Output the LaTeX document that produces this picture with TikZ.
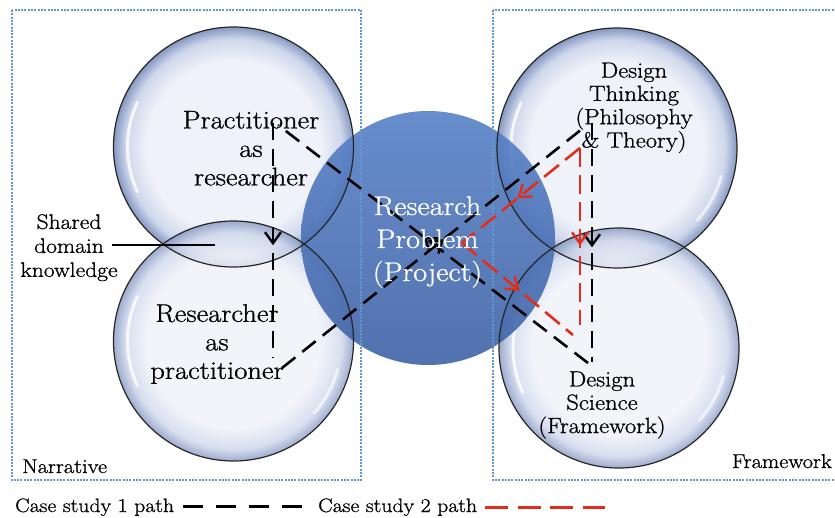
\documentclass[tikz,border=0pt]{standalone}
\usepackage{fontspec}
\setmainfont{Latin Modern Roman}[FakeStretch=1.12, FakeBold=0.9]
\usetikzlibrary{arrows.meta,decorations.markings}
\definecolor{bubin}{RGB}{239,242,249}
\definecolor{bubmid}{RGB}{206,215,235}
\definecolor{bubrim}{RGB}{134,152,194}
\definecolor{probtop}{RGB}{88,129,199}
\definecolor{probbot}{RGB}{63,99,166}
\definecolor{boxblue}{RGB}{100,152,208}
\definecolor{pathred}{RGB}{224,46,28}
\pgfdeclareradialshading{bubble}{\pgfpoint{0bp}{0bp}}{color(0bp)=(bubin); color(18bp)=(bubin); color(22.5bp)=(bubmid); color(25bp)=(bubrim); color(50bp)=(bubrim)}
\begin{document}
\begin{tikzpicture}[x=1pt,y=-1pt,
  bubbleedge/.style={draw=black!85, line width=1.2pt},
  gloss/.style={white, line width=3pt, line cap=round, opacity=0.8},
  framebox/.style={draw=boxblue, line width=1.1pt, dash pattern=on 2pt off 1.3pt},
  pathone/.style={black, line width=2.6pt, dash pattern=on 17pt off 9pt},
  pathtwo/.style={pathred, line width=2.6pt, dash pattern=on 19pt off 8pt},
  midarrow/.style={postaction={decorate}, decoration={markings, mark=at position #1 with {\arrow{Straight Barb[length=11pt,width=16pt,line width=2.4pt]}}}},
  bigtext/.style={font=\fontsize{25.5}{28.5}\selectfont, align=center, inner sep=0pt},
  probtext/.style={font=\fontsize{27}{33}\selectfont, align=center, inner sep=0pt, text=white},
  dtext/.style={font=\fontsize{22}{23.3}\selectfont, align=center, inner sep=0pt},
  stext/.style={font=\fontsize{21}{24}\selectfont, align=center, inner sep=0pt},
  ltext/.style={font=\fontsize{20}{24}\selectfont, inner sep=0pt},
  legtext/.style={font=\fontsize{19.4}{24}\selectfont, inner sep=0pt}
]
\useasboundingbox (0,0) rectangle (835,517);
\clip (0,0) rectangle (835,517);
\fill[white] (0,0) rectangle (835,517);

% circle centres
\coordinate (cTL) at (233.5,147);
\coordinate (cBL) at (233.5,341);
\coordinate (cTR) at (617,148);
\coordinate (cBR) at (619,348);
\coordinate (cRP) at (428,238);

% bubbles
\shade[shading=bubble] (cTL) circle[radius=120];
\shade[shading=bubble, opacity=0.8] (cBL) circle[radius=120];
\shade[shading=bubble] (cTR) circle[radius=120];
\shade[shading=bubble, opacity=0.8] (cBR) circle[radius=120];
\foreach \c in {cTL,cBL,cTR,cBR}{
  \draw[gloss] (\c) ++(155:106) arc[start angle=155, end angle=205, radius=106];
  \draw[gloss, opacity=0.6] (\c) ++(15:108) arc[start angle=15, end angle=42, radius=108];
}

% research problem
\shade[top color=probtop, bottom color=probbot, opacity=0.9] (cRP) circle[radius=127];

% outlines
\foreach \c in {cTL,cBL,cTR,cBR}{
  \draw[bubbleedge] (\c) circle[radius=120];
}

% frames
\draw[framebox] (12,10) rectangle (361,480);
\draw[framebox] (493,10) rectangle (850,480);

% case study 1 path
\coordinate (a1) at (273,123);
\coordinate (a2) at (273,358);
\coordinate (b1) at (278,125);
\coordinate (b2) at (588,363);
\coordinate (c1) at (282,368);
\coordinate (c2) at (587,125);
\coordinate (d1) at (592,123);
\coordinate (d2) at (592,362);
\draw[pathone, midarrow=0.52] (a1) -- (a2);
\draw[pathone, midarrow=0.53] (c1) -- (c2);
\draw[pathone, midarrow=0.52] (d1) -- (d2);
\draw[pathone, midarrow=0.53] (b2) -- (b1);

% case study 2 path
\coordinate (r1) at (580,148);
\coordinate (r2) at (462,243);
\coordinate (r3) at (573,335);
\coordinate (r4) at (580,325);
\draw[pathtwo, midarrow=0.55] (r1) -- (r4);
\draw[pathtwo, midarrow=0.53] (r1) -- (r2);
\draw[pathtwo, midarrow=0.52] (r2) -- (r3);

% texts
\node[bigtext] (tPR) at (251,148.3) {Practitioner\\as\\researcher};
\node[bigtext] (tRP) at (217,344) {Researcher\\as\\practitioner};
\node[probtext] (tRQ) at (427.5,242) {Research\\Problem\\(Project)};
\node[dtext] (tDT) at (634,107.8) {Design\\Thinking\\(Philosophy\\\& Theory)};
\node[dtext] (tDS) at (602,405) {Design\\Science\\(Framework)};
\node[stext] (tSD) at (69,247.7) {Shared\\domain\\knowledge};
\coordinate (sdA) at (112,245);
\coordinate (sdB) at (215,245);
\draw[line width=1.8pt] (sdA) -- (sdB);
\node[ltext, anchor=base west] (tNa) at (22,473) {Narrative};
\node[ltext, anchor=base east] (tFr) at (832,468) {Framework};

% legend
\node[legtext, anchor=base west] (leg1) at (15,512) {Case study 1 path};
\coordinate (l1a) at (183,506);
\coordinate (l1b) at (303,506);
\draw[black, line width=3pt, dash pattern=on 20pt off 13pt] (l1a) -- (l1b);
\node[legtext, anchor=base west] (leg2) at (318,512) {Case study 2 path};
\coordinate (l2a) at (485,507);
\coordinate (l2b) at (605,507);
\draw[pathred, line width=3pt, dash pattern=on 23pt off 9.7pt] (l2a) -- (l2b);
\end{tikzpicture}
\end{document}
